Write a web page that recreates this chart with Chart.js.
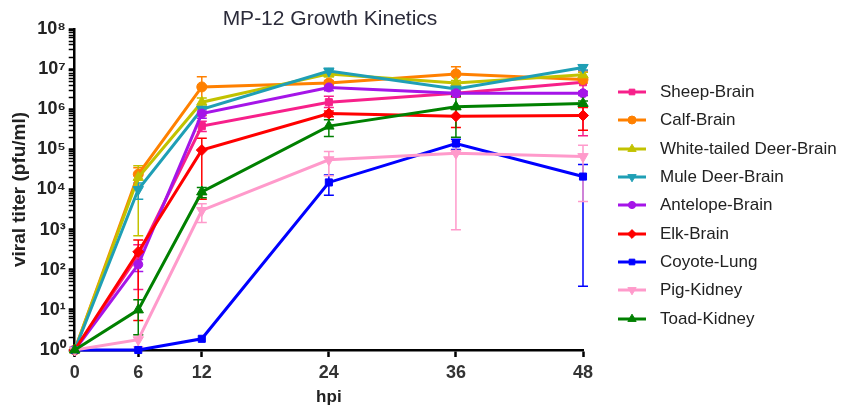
<!DOCTYPE html>
<html lang="en">
<head>
    <meta charset="UTF-8">
    <title>MP-12 Growth Kinetics</title>
    <script src="https://cdn.jsdelivr.net/npm/chart.js"></script>
    <style>
        body {
            margin: 0;
            background: #fff;
            font-family: 'Liberation Sans', Arial, sans-serif;
        }
        #wrap {
            position: relative;
            width: 853px;
            height: 406px;
        }
        #box {
            position: absolute;
            left: 0;
            top: 0;
            width: 660px;
            height: 406px;
        }
        #title {
            position: absolute;
            left: 0;
            top: 6px;
            width: 660px;
            text-align: center;
            font-size: 21px;
            color: #2b2b3a;
            line-height: 24px;
        }
        #legend {
            position: absolute;
            left: 618px;
            top: 78px;
            list-style: none;
            margin: 0;
            padding: 0;
        }
        #legend li {
            display: flex;
            align-items: center;
            height: 28.3px;
            font-size: 17px;
            color: #222;
            white-space: nowrap;
        }
        #legend canvas {
            margin-right: 14px;
        }
    </style>
</head>
<body>
<div id="wrap">
    <div id="box"><canvas id="growthChart"></canvas></div>
    <div id="title">MP-12 Growth Kinetics</div>
    <ul id="legend"></ul>
</div>

<script>
    // hours post infection
    const hours = [0, 6, 12, 24, 36, 48];
    const xTicks = [0, 6, 12, 24, 36, 48];
    const yTickLabels = ['10⁰', '10¹', '10²', '10³', '10⁴', '10⁵', '10⁶', '10⁷', '10⁸'];

    // mean titers (pfu/ml), error bars as [low, high]
    const sheepBrain = [1, 230, 3.8e5, 1.5e6, 2.5e6, 4.7e6];
    const sheepBrainErr = [null, [32, 420], [2.8e5, 5e5], [1.1e6, 2.1e6], [2.0e6, 3.0e6], [2.2e5, 9e6]];

    const calfBrain = [1, 2.4e4, 3.6e6, 4.5e6, 7.6e6, 5.5e6];
    const calfBrainErr = [null, [1.3e4, 3.5e4], [7e5, 6.5e6], [3.8e6, 5.2e6], [3.5e6, 1.15e7], [4.5e6, 6.5e6]];

    const whiteTailedBrain = [1, 2e4, 1.5e6, 7.6e6, 4.5e6, 7.2e6];
    const whiteTailedBrainErr = [null, [700, 3.9e4], [1.1e6, 1.9e6], [6.5e6, 8.7e6], [3.8e6, 5.2e6], [6e6, 8.4e6]];

    const muleDeerBrain = [1, 1e4, 1e6, 9e6, 3.2e6, 1.1e7];
    const muleDeerBrainErr = [null, [5.7e3, 1.45e4], [8.5e5, 1.15e6], [8e6, 1e7], [2.8e6, 3.6e6], [9.5e6, 1.25e7]];

    const antelopeBrain = [1, 135, 7.8e5, 3.5e6, 2.5e6, 2.5e6];
    const antelopeBrainErr = [null, [90, 180], [6e5, 9.6e5], [2.9e6, 4.1e6], [2.2e6, 2.8e6], [2.2e6, 2.8e6]];

    const elkBrain = [1, 280, 9.6e4, 7.8e5, 6.7e5, 7e5];
    const elkBrainErr = [null, [5.4, 550], [5.7e3, 1.9e5], [6.5e5, 9e5], [3.5e5, 1e6], [3e5, 1.1e6]];

    const coyoteLung = [1, 1, 1.9, 1.5e4, 1.4e5, 2.1e4];
    const coyoteLungErr = [null, null, null, [7.2e3, 2.3e4], [1e5, 1.8e5], [39, 4.2e4]];

    const pigKidney = [1, 1.8, 3e3, 5.5e4, 8e4, 6.6e4];
    const pigKidneyErr = [null, [1.2, 2.4], [1.5e3, 4.4e3], [2.2e4, 8.9e4], [1e3, 1.6e5], [5e3, 1.26e5]];

    const toadKidney = [1, 10, 8.7e3, 3.8e5, 1.15e6, 1.4e6];
    const toadKidneyErr = [null, [2.4, 18], [6.2e3, 1.12e4], [2.1e5, 5.5e5], [2e5, 2.1e6], [1.2e6, 1.6e6]];

    const series = [
        { label: 'Sheep-Brain', values: sheepBrain, errors: sheepBrainErr, color: '#f7208a', style: 'rect', radius: 5, rot: 0 },
        { label: 'Calf-Brain', values: calfBrain, errors: calfBrainErr, color: '#ff8000', style: 'circle', radius: 5, rot: 0 },
        { label: 'White-tailed Deer-Brain', values: whiteTailedBrain, errors: whiteTailedBrainErr, color: '#c2c200', style: 'triangle', radius: 6, rot: 0 },
        { label: 'Mule Deer-Brain', values: muleDeerBrain, errors: muleDeerBrainErr, color: '#1f9fb5', style: 'triangle', radius: 6, rot: 180 },
        { label: 'Antelope-Brain', values: antelopeBrain, errors: antelopeBrainErr, color: '#a515e8', style: 'circle', radius: 4.5, rot: 0 },
        { label: 'Elk-Brain', values: elkBrain, errors: elkBrainErr, color: '#ff0000', style: 'rectRot', radius: 5.5, rot: 0 },
        { label: 'Coyote-Lung', values: coyoteLung, errors: coyoteLungErr, color: '#0000ff', style: 'rect', radius: 5, rot: 0 },
        { label: 'Pig-Kidney', values: pigKidney, errors: pigKidneyErr, color: '#ff9acb', style: 'triangle', radius: 6, rot: 180 },
        { label: 'Toad-Kidney', values: toadKidney, errors: toadKidneyErr, color: '#008000', style: 'triangle', radius: 6, rot: 0 }
    ];

    // vertical error bars with caps, drawn under the lines
    const errorBars = {
        id: 'errorBars',
        beforeDatasetsDraw(chart) {
            const ctx = chart.ctx;
            const x = chart.scales.x;
            const y = chart.scales.y;
            ctx.save();
            chart.data.datasets.forEach((ds, i) => {
                if (!chart.isDatasetVisible(i)) return;
                ctx.strokeStyle = ds.borderColor;
                ctx.lineWidth = 1.5;
                ds.errors.forEach((e, j) => {
                    if (!e) return;
                    const px = x.getPixelForValue(hours[j]);
                    const lo = y.getPixelForValue(e[0]);
                    const hi = y.getPixelForValue(e[1]);
                    ctx.beginPath();
                    ctx.moveTo(px, lo); ctx.lineTo(px, hi);
                    ctx.moveTo(px - 5, lo); ctx.lineTo(px + 5, lo);
                    ctx.moveTo(px - 5, hi); ctx.lineTo(px + 5, hi);
                    ctx.stroke();
                });
            });
            ctx.restore();
        }
    };

    function isDecade(v) {
        const l = Math.log10(v);
        return Math.abs(l - Math.round(l)) < 1e-9;
    }

    const chart = new Chart(document.getElementById('growthChart'), {
        type: 'line',
        data: {
            datasets: series.map((s, i) => ({
                label: s.label,
                data: hours.map((h, k) => ({ x: h, y: s.values[k] })),
                errors: s.errors,
                borderColor: s.color,
                backgroundColor: s.color,
                borderWidth: 3,
                pointStyle: s.style,
                pointRotation: s.rot,
                pointRadius: s.radius,
                pointBorderWidth: 1,
                tension: 0,
                clip: false,
                order: series.length - i
            }))
        },
        options: {
            responsive: true,
            maintainAspectRatio: false,
            animation: false,
            layout: { padding: { left: 8, right: 77, top: 29, bottom: 0 } },
            plugins: {
                legend: { display: false },
                tooltip: { enabled: false },
                title: { display: false }
            },
            scales: {
                x: {
                    type: 'linear',
                    min: 0,
                    max: 48,
                    afterBuildTicks: scale => { scale.ticks = xTicks.map(v => ({ value: v })); },
                    ticks: {
                        color: '#333',
                        padding: 7,
                        font: { family: 'Liberation Sans', size: 18, weight: 'bold', lineHeight: 1 }
                    },
                    grid: { drawOnChartArea: false, tickLength: 7, tickColor: '#000', tickWidth: 2.5 },
                    border: { color: '#000', width: 2.5 },
                    title: {
                        display: true,
                        text: 'hpi',
                        color: '#222',
                        padding: { top: 0, bottom: 0 },
                        font: { family: 'Liberation Sans', size: 17, weight: 'bold', lineHeight: 1 }
                    }
                },
                y: {
                    type: 'logarithmic',
                    min: 1,
                    max: 1e8,
                    afterBuildTicks: scale => {
                        const t = [];
                        for (let e = 0; e < 8; e++) {
                            for (let s = 1; s < 10; s++) t.push({ value: s * Math.pow(10, e), major: s === 1 });
                        }
                        t.push({ value: 1e8, major: true });
                        scale.ticks = t;
                    },
                    ticks: {
                        autoSkip: false,
                        color: '#222',
                        padding: 3,
                        font: { family: 'Liberation Sans', size: 18, weight: 'bold' },
                        callback: v => isDecade(v) ? yTickLabels[Math.round(Math.log10(v))] : ''
                    },
                    grid: {
                        drawOnChartArea: false,
                        tickLength: 6,
                        tickColor: '#000',
                        tickWidth: c => (c.tick && isDecade(c.tick.value)) ? 2.5 : 1.5
                    },
                    border: { color: '#000', width: 2.5 },
                    title: {
                        display: true,
                        text: 'viral titer (pfu/ml)',
                        color: '#222',
                        padding: { top: 0, bottom: 3 },
                        font: { family: 'Liberation Sans', size: 19, weight: 'bold' }
                    }
                }
            }
        },
        plugins: [errorBars]
    });

    // legend: line plus marker, then the name
    const legend = document.getElementById('legend');
    series.forEach(s => {
        const li = document.createElement('li');
        const c = document.createElement('canvas');
        c.width = 28;
        c.height = 14;
        const g = c.getContext('2d');
        g.strokeStyle = s.color;
        g.lineWidth = 3;
        g.beginPath();
        g.moveTo(0, 7);
        g.lineTo(28, 7);
        g.stroke();
        g.fillStyle = s.color;
        g.lineWidth = 1;
        if (Chart.helpers && Chart.helpers.drawPoint) {
            Chart.helpers.drawPoint(g, { pointStyle: s.style, radius: s.radius * 0.8, rotation: s.rot, borderWidth: 1 }, 14, 7);
        }
        li.appendChild(c);
        li.appendChild(document.createTextNode(s.label));
        legend.appendChild(li);
    });
</script>
</body>
</html>
